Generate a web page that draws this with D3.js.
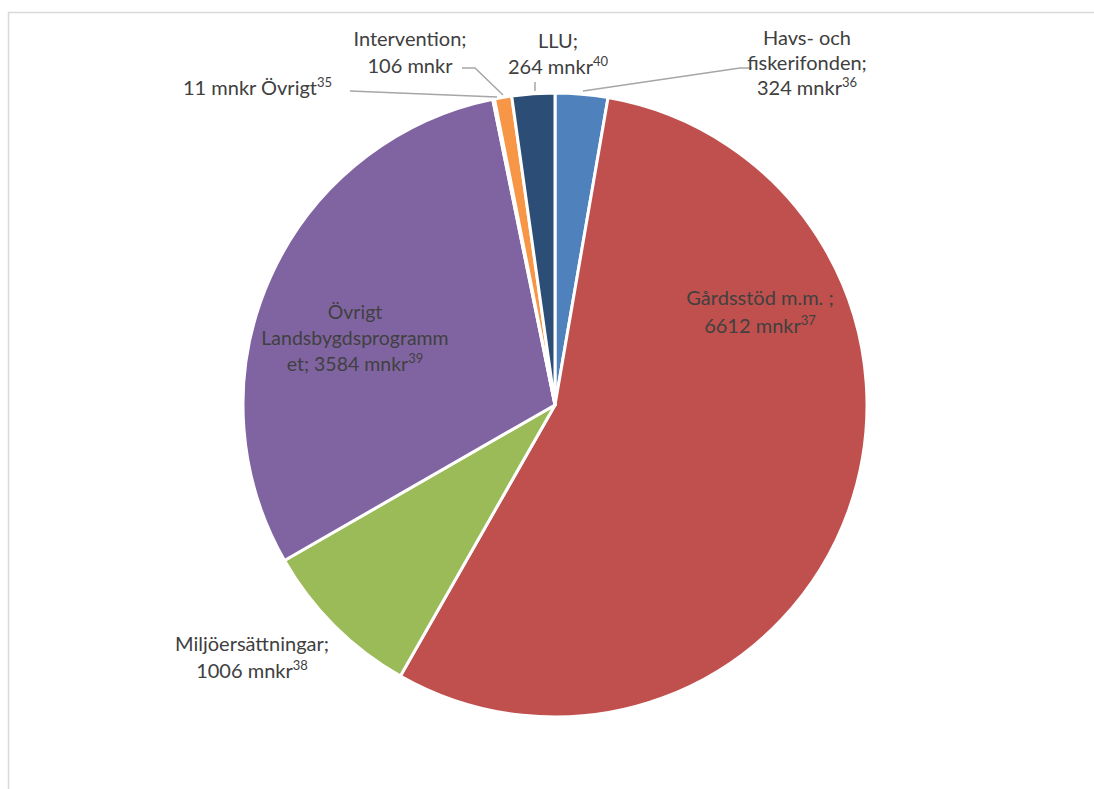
<!DOCTYPE html>
<html>
<head>
<meta charset="utf-8">
<script src="https://cdn.jsdelivr.net/npm/d3@7"></script>
<style>
  body { margin: 0; background: #fff; }
  svg text { font-family: Lato, "Open Sans", sans-serif; fill: #404040; }
</style>
</head>
<body>
<div id="chart"></div>
<script>
// data, clockwise from 12 o'clock
const categories = ["Havs- och fiskerifonden", "Gårdsstöd m.m.", "Miljöersättningar",
  "Övrigt Landsbygdsprogrammet", "Övrigt", "Intervention", "LLU"];
const values = [324, 6612, 1006, 3584, 11, 106, 264];
const footnotes = ["36", "37", "38", "39", "35", "", "40"];
const colors = ["#4f81bd", "#c0504d", "#9bbb59", "#8064a2", "#4bacc6", "#f79646", "#2c4d75"];

// label lines as shown (last line gets the value + footnote)
const labelLines = [
  ["Havs- och", "fiskerifonden;"],
  ["Gårdsstöd m.m. ;"],
  ["Miljöersättningar;"],
  ["Övrigt", "Landsbygdsprogramm", "et;"],
  [],
  ["Intervention;"],
  ["LLU;"]
];

const width = 1094, height = 789;
const cx = 555, cy = 405, r = 312;

// label placement (centre x, first baseline y, line step)
const layout = [
  { x: 807, y: 45, step: 25, size: 20 },
  { x: 760, y: 305, step: 28, size: 20 },
  { x: 252, y: 651, step: 27, size: 20 },
  { x: 355, y: 319, step: 26, size: 19.5 },
  { x: 183, y: 95, step: 0, size: 20, anchor: "start", prefix: true },
  { x: 410, y: 46, step: 27, size: 20 },
  { x: 558, y: 48, step: 26, size: 20 }
];

// leader lines (label side -> slice side)
const leaders = [
  [[752, 68], [740, 68], [583, 91]],
  null, null, null,
  [[350, 91], [497, 97]],
  [[462, 68], [475, 68], [503, 95]],
  [[535, 82], [535, 91]]
];

const svg = d3.select("#chart").append("svg")
  .attr("width", width)
  .attr("height", height);

// frame
svg.append("path")
  .attr("d", "M8.5,789 V12.5 H1094")
  .attr("fill", "none")
  .attr("stroke", "#d9d9d9")
  .attr("stroke-width", 1.5);

const pie = d3.pie().sort(null).value(d => d)(values);
const arc = d3.arc().innerRadius(0).outerRadius(r);

const g = svg.append("g").attr("transform", "translate(" + cx + "," + cy + ")");
g.selectAll("path.slice")
  .data(pie)
  .enter().append("path")
  .attr("class", "slice")
  .attr("d", arc)
  .attr("fill", (d, i) => colors[i])
  .attr("stroke", "#fff")
  .attr("stroke-width", 3)
  .attr("stroke-linejoin", "round");

const line = d3.line();
leaders.forEach(pts => {
  if (!pts) return;
  svg.append("path")
    .attr("d", line(pts))
    .attr("fill", "none")
    .attr("stroke", "#a6a6a6")
    .attr("stroke-width", 1.5);
});

values.forEach((v, i) => {
  const L = layout[i];
  const t = svg.append("text")
    .attr("text-anchor", L.anchor || "middle")
    .style("font-size", L.size + "px");
  const lines = labelLines[i].slice();
  const valueText = v + " mnkr";
  let k = 0;
  if (L.prefix) {
    const ts = t.append("tspan").attr("x", L.x).attr("y", L.y);
    ts.append("tspan").text(valueText + " " + categories[i]);
    if (footnotes[i]) ts.append("tspan").attr("dy", -8).style("font-size", "13px").text(footnotes[i]);
    return;
  }
  // for the purple one the value continues on the last text line
  const joinLast = i === 3;
  lines.forEach((ln, j) => {
    if (joinLast && j === lines.length - 1) return;
    t.append("tspan").attr("x", L.x).attr("y", L.y + L.step * k).text(ln);
    k++;
  });
  const last = t.append("tspan").attr("x", L.x).attr("y", L.y + L.step * k);
  last.append("tspan").text(joinLast ? lines[lines.length - 1] + " " + valueText : valueText);
  if (footnotes[i]) last.append("tspan").attr("dy", -8).style("font-size", "13px").text(footnotes[i]);
});
</script>
</body>
</html>
